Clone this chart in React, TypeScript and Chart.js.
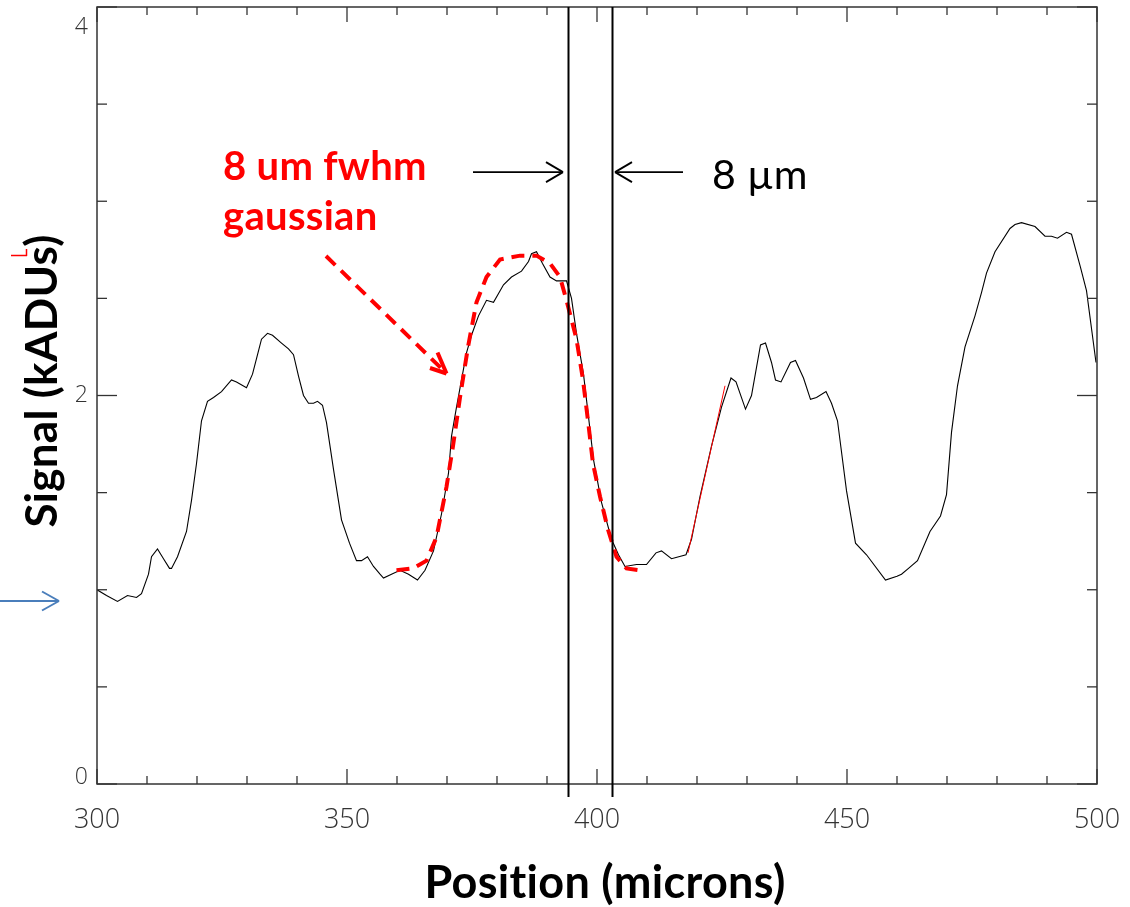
import { useEffect, useRef } from 'react';
import { Chart, registerables } from 'chart.js';

Chart.register(...registerables);

// Measured signal profile (position in microns, signal in kADUs)
const signalPos = [
  300.0, 301.9, 304.1, 306.1, 307.9, 308.9, 310.3, 310.9, 312.1, 313.3, 314.5, 314.9, 316.1, 317.9, 318.9, 319.9,
  320.9, 322.1, 323.3, 324.9, 326.9, 327.9, 329.9, 331.1, 331.9, 332.9, 334.1, 335.1, 336.9, 338.3, 339.3, 340.3,
  341.3, 342.3, 343.3, 344.1, 345.1, 345.9, 347.3, 348.9, 350.5, 351.9, 352.9, 354.1, 355.3, 356.6, 357.3, 358.9,
  360.6, 362.3, 364.1, 365.6, 367.3, 368.9, 370.3, 370.9, 371.9, 372.9, 373.9, 374.9, 376.3, 377.9, 379.3, 381.3,
  382.9, 384.9, 386.3, 386.9, 387.9, 389.1, 390.6, 391.9, 393.9, 394.9, 395.9, 397.3, 398.3, 399.3, 400.9, 402.9,
  404.3, 405.6, 407.9, 409.9, 411.8, 412.9, 414.9, 417.8, 418.9, 420.6, 422.9, 424.9, 426.8, 427.8, 429.7, 430.9,
  432.7, 433.7, 434.9, 435.7, 436.8, 438.7, 439.7, 441.3, 442.7, 443.9, 445.8, 446.9, 448.1, 449.9, 451.7, 453.9,
  457.7, 460.0, 460.9, 462.3, 464.1, 466.6, 468.7, 469.9, 470.9, 472.1, 473.6, 475.6, 476.9, 477.9, 479.6, 482.6,
  483.6, 484.9, 487.6, 489.6, 490.9, 492.1, 493.9, 494.9, 496.7, 497.9, 499.8,
];
const signalVal = [
  1.00, 0.97, 0.94, 0.97, 0.96, 0.98, 1.08, 1.17, 1.21, 1.16, 1.11, 1.11, 1.17, 1.30, 1.46, 1.65,
  1.87, 1.97, 1.99, 2.02, 2.08, 2.07, 2.04, 2.11, 2.19, 2.29, 2.32, 2.31, 2.27, 2.24, 2.21, 2.10,
  2.00, 1.96, 1.96, 1.97, 1.95, 1.86, 1.62, 1.36, 1.24, 1.15, 1.15, 1.17, 1.12, 1.08, 1.06, 1.08,
  1.10, 1.08, 1.05, 1.10, 1.20, 1.39, 1.60, 1.79, 1.94, 2.08, 2.22, 2.31, 2.41, 2.49, 2.48, 2.57,
  2.61, 2.64, 2.69, 2.73, 2.74, 2.68, 2.61, 2.59, 2.59, 2.50, 2.32, 2.11, 1.89, 1.67, 1.45, 1.26,
  1.18, 1.12, 1.13, 1.13, 1.19, 1.20, 1.16, 1.18, 1.26, 1.48, 1.74, 1.94, 2.09, 2.07, 1.93, 2.00,
  2.26, 2.27, 2.17, 2.08, 2.07, 2.17, 2.18, 2.09, 1.98, 1.99, 2.02, 1.96, 1.87, 1.51, 1.24, 1.18,
  1.05, 1.07, 1.08, 1.11, 1.15, 1.30, 1.38, 1.49, 1.81, 2.05, 2.25, 2.41, 2.53, 2.63, 2.74, 2.86,
  2.88, 2.89, 2.87, 2.82, 2.82, 2.81, 2.84, 2.83, 2.66, 2.54, 2.17,
];

// 8 um fwhm gaussian model (red dashed)
const fitPos = [
  359.9, 363.2, 365.9, 367.9, 369.9, 371.2, 372.6, 374.2, 375.9, 377.9, 380.6, 384.6, 387.9,
  390.6, 392.6, 393.9, 395.9, 397.2, 398.2, 399.2, 400.6, 402.2, 403.9, 405.9, 408.6,
];
const fitVal = [
  1.10, 1.11, 1.15, 1.27, 1.53, 1.74, 1.99, 2.25, 2.48, 2.61, 2.70, 2.72, 2.72,
  2.68, 2.61, 2.49, 2.29, 2.08, 1.87, 1.65, 1.48, 1.31, 1.17, 1.11, 1.10,
];

// thin red slope segment
const slopePos = [418.2, 425.6];
const slopeVal = [1.19, 2.05];

// vertical edge markers (microns)
const edgeLines = [394.2, 403.0];

// axes
const xTickLabels = [300, 350, 400, 450, 500];
const yTickLabels = [0, 2, 4];
const xMinorStep = 10;
const yMinorStep = 0.5;

const decor = {
  id: 'decor',
  afterDraw(chart: any) {
    const { ctx, chartArea: a, scales } = chart;
    const xs = scales.x;
    const ys = scales.y;
    const line = (x1: number, y1: number, x2: number, y2: number) => {
      ctx.beginPath();
      ctx.moveTo(x1, y1);
      ctx.lineTo(x2, y2);
      ctx.stroke();
    };
    ctx.save();

    // frame
    ctx.strokeStyle = '#333';
    ctx.lineWidth = 1.5;
    ctx.strokeRect(a.left, a.top, a.right - a.left, a.bottom - a.top);

    // inward ticks
    ctx.lineWidth = 1.3;
    for (let v = xs.min; v <= xs.max + 1e-9; v += xMinorStep) {
      const px = xs.getPixelForValue(v);
      const len = xTickLabels.includes(Math.round(v)) ? 15 : 8;
      line(px, a.bottom, px, a.bottom - len);
      line(px, a.top, px, a.top + len);
    }
    for (let v = ys.min; v <= ys.max + 1e-9; v += yMinorStep) {
      const py = ys.getPixelForValue(v);
      const len = yTickLabels.includes(v) ? 20 : 10;
      line(a.left, py, a.left + len, py);
      line(a.right, py, a.right - len, py);
    }

    // tick labels
    ctx.fillStyle = '#333';
    ctx.font = '300 27px "Open Sans"';
    ctx.textAlign = 'center';
    ctx.textBaseline = 'middle';
    xTickLabels.forEach((v) => {
      ctx.fillText(String(v), xs.getPixelForValue(v), a.bottom + 36);
    });
    ctx.font = '300 23px "Open Sans"';
    ctx.textAlign = 'right';
    yTickLabels.forEach((v, i) => {
      const py = ys.getPixelForValue(v);
      const off = i === 0 ? -7 : i === yTickLabels.length - 1 ? 20 : 0;
      ctx.fillText(String(v), a.left - 9, py + off);
    });

    // vertical edge lines
    ctx.strokeStyle = '#000';
    ctx.lineWidth = 2;
    edgeLines.forEach((v) => {
      const px = Math.round(xs.getPixelForValue(v)) + 0.5;
      line(px, a.top, px, a.bottom + 13);
    });

    // 8 um arrows
    const ay = ys.getPixelForValue(3.15);
    ctx.lineWidth = 1.8;
    const l1 = xs.getPixelForValue(375.2);
    const t1 = xs.getPixelForValue(edgeLines[0]) - 5;
    line(l1, ay, t1, ay);
    line(t1 - 17, ay - 10, t1, ay);
    line(t1 - 17, ay + 10, t1, ay);
    const l2 = xs.getPixelForValue(417.2);
    const t2 = xs.getPixelForValue(edgeLines[1]) + 3;
    line(l2, ay, t2, ay);
    line(t2 + 17, ay - 10, t2, ay);
    line(t2 + 17, ay + 10, t2, ay);

    (ctx as any).letterSpacing = '0.3px';
    ctx.fillStyle = '#000';
    ctx.font = '41px Lato';
    ctx.textAlign = 'left';
    ctx.textBaseline = 'alphabetic';
    ctx.fillText('8 \u00b5m', 712, 189);

    // red annotation text
    ctx.fillStyle = '#ff0000';
    ctx.font = 'bold 40px Lato';
    ctx.fillText('8 um fwhm', 223, 180);
    ctx.fillText('gaussian', 223, 230);

    // red dashed arrow
    ctx.strokeStyle = '#ff0000';
    ctx.lineWidth = 4;
    ctx.setLineDash([13, 8]);
    line(326, 256, 444, 371);
    ctx.setLineDash([]);
    line(430, 368, 446.5, 373.5);
    line(437.5, 352.5, 446.5, 373.5);

    // small red mark near title
    ctx.lineWidth = 1.5;
    line(11, 255.5, 27, 255.5);
    line(26.5, 249, 26.5, 256);

    // blue arrow
    ctx.strokeStyle = '#4a7ebb';
    ctx.lineWidth = 2;
    line(0, 601, 59, 601);
    line(42, 591.5, 59, 601);
    line(42, 610.5, 59, 601);

    // axis titles
    ctx.fillStyle = '#000';
    ctx.font = 'bold 45px Lato';
    ctx.textAlign = 'center';
    ctx.textBaseline = 'middle';
    ctx.fillText('Position (microns)', 605, 883);
    ctx.save();
    ctx.translate(43, 381);
    ctx.rotate(-Math.PI / 2);
    ctx.font = 'bold 44px Lato';
    ctx.fillText('Signal (kADUs)', 0, 0);
    ctx.restore();

    ctx.restore();
  },
};

export default function App() {
  const ref = useRef<HTMLCanvasElement>(null);
  useEffect(() => {
    if (!ref.current) return;
    const toPts = (xs: number[], ys: number[]) => xs.map((x, i) => ({ x, y: ys[i] }));
    const chart = new Chart(ref.current, {
      type: 'line',
      data: {
        datasets: [
          {
            label: '8 um fwhm gaussian',
            data: toPts(fitPos, fitVal),
            borderColor: '#ff0000',
            borderWidth: 4,
            borderDash: [13, 8],
            pointRadius: 0,
            fill: false,
            order: 0,
          },
          {
            label: 'slope',
            data: toPts(slopePos, slopeVal),
            borderColor: '#ff0000',
            borderWidth: 1,
            pointRadius: 0,
            fill: false,
            order: 1,
          },
          {
            label: 'Signal',
            data: toPts(signalPos, signalVal),
            borderColor: '#000000',
            borderWidth: 1.1,
            pointRadius: 0,
            fill: false,
            order: 2,
          },
        ],
      },
      options: {
        animation: false,
        responsive: false,
        devicePixelRatio: 1,
        events: [],
        layout: { padding: { left: 97, right: 33, top: 7, bottom: 123 } },
        scales: {
          x: { type: 'linear', min: 300, max: 500, display: false },
          y: { type: 'linear', min: 0, max: 4, display: false },
        },
        plugins: { legend: { display: false }, tooltip: { enabled: false } },
      },
      plugins: [decor],
    });
    return () => chart.destroy();
  }, []);
  return (
    <div style={{ position: 'fixed', left: 0, top: 0, width: 1130, height: 907, background: '#fff' }}>
      <canvas ref={ref} width={1130} height={907} style={{ width: 1130, height: 907, display: 'block' }} />
    </div>
  );
}
